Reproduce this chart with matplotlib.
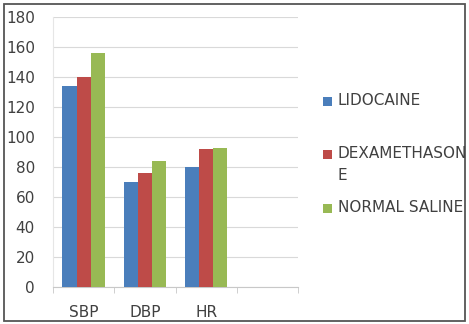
import numpy as np
import matplotlib.pyplot as plt
from matplotlib.patches import Rectangle
from matplotlib.legend_handler import HandlerPatch

categories = ['SBP', 'DBP', 'HR']
lidocaine = [134, 70, 80]
dexamethasone = [140, 76, 92]
normal_saline = [156, 84, 93]
series_names = ['LIDOCAINE', 'DEXAMETHASON\nE', 'NORMAL SALINE']
series_colors = ['#4a7ebb', '#be4b48', '#98b954']

W, H = 469, 324
fig = plt.figure(figsize=(W / 100, H / 100), dpi=100)
ax = fig.add_axes([53 / W, 37 / H, 245 / W, 270 / H])

x = np.arange(len(categories))
width = 0.23
containers = []
for i, (vals, name, col) in enumerate(zip([lidocaine, dexamethasone, normal_saline],
                                          series_names, series_colors)):
    bc = ax.bar(x + (i - 1) * width, vals, width, color=col, label=name, zorder=3)
    containers.append(bc)

# four category slots, last one left empty
ax.set_xlim(-0.5, 3.5)
ax.set_ylim(0, 180)
ax.set_yticks(range(0, 181, 20))
ax.set_xticks(x)
ax.set_xticklabels(categories)
ax.set_xticks(np.arange(-0.5, 3.6, 1), minor=True)
ax.tick_params(axis='x', which='major', length=0, pad=13, labelsize=11, labelcolor='#404040')
ax.tick_params(axis='x', which='minor', length=4, color='#c8c8c8')
ax.tick_params(axis='y', length=0, pad=13, labelsize=11, labelcolor='#404040')

ax.grid(axis='y', color='#d9d9d9', linewidth=0.8, zorder=0)
for side in ['top', 'right']:
    ax.spines[side].set_visible(False)
ax.spines['left'].set_color('#e6e6e6')
ax.spines['bottom'].set_color('#c8c8c8')


def square(legend, orig_handle, xdescent, ydescent, width, height, fontsize):
    s = width
    return Rectangle((-xdescent, -ydescent + height - s - 3), s, s)


# one legend entry per box so the markers sit level with the first text line
legend_tops = [93, 146, 200]
for bc, name, top in zip(containers, series_names, legend_tops):
    leg = fig.legend(handles=[bc.patches[0]], labels=[name], loc='upper left',
                     bbox_to_anchor=(323 / W, 1 - top / H), frameon=False,
                     fontsize=11, handlelength=0.6, handleheight=1.0,
                     handletextpad=0.35, borderpad=0, borderaxespad=0,
                     labelcolor='#404040',
                     handler_map={Rectangle: HandlerPatch(patch_func=square)})
    for t in leg.get_texts():
        t.set_linespacing(1.6)
    for col in leg._legend_handle_box.get_children():
        for row in col.get_children():
            row.align = 'top'

fig.patches.append(Rectangle((4 / W, 3 / H), 1 - 8 / W, 1 - 7 / H, transform=fig.transFigure,
                             fill=False, edgecolor='#555555', linewidth=1.3))

fig.savefig('out.png', dpi=100)
